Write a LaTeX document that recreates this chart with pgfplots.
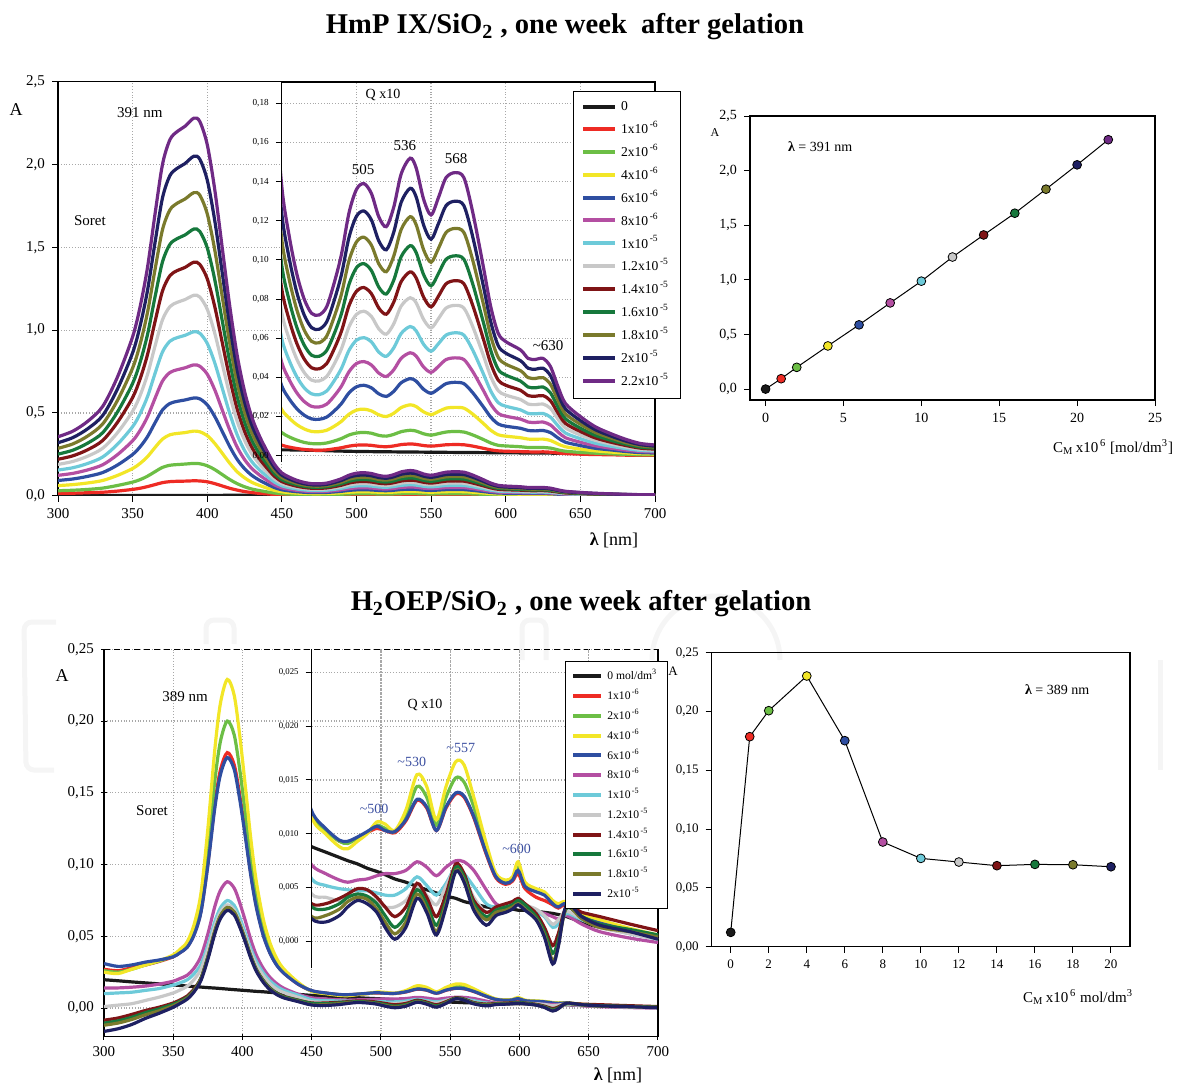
\documentclass[border=0pt]{standalone}
\usepackage{fontspec}
\setmainfont{Liberation Serif}
\usepackage{graphicx}
\usepackage{pgfplots}
\usepackage{pgfplotstable}
\pgfplotsset{compat=1.18}

% series colours (0 ... 2.2x10^-5 mol/dm^3)
\definecolor{c0}{HTML}{1A1A1A}
\definecolor{c1}{HTML}{EE2B24}
\definecolor{c2}{HTML}{6CBE45}
\definecolor{c3}{HTML}{F2E627}
\definecolor{c4}{HTML}{2E4EA1}
\definecolor{c5}{HTML}{B44FA2}
\definecolor{c6}{HTML}{6DCAD9}
\definecolor{c7}{HTML}{C8C8C8}
\definecolor{c8}{HTML}{7F1416}
\definecolor{c9}{HTML}{16783C}
\definecolor{c10}{HTML}{7A7A2C}
\definecolor{c11}{HTML}{1E2062}
\definecolor{c12}{HTML}{6F2A85}
\definecolor{peak}{HTML}{3B4FA0}
\definecolor{gridc}{HTML}{A8A8A8}
\definecolor{wm}{HTML}{F5F5F5}

\newcommand{\fs}[1]{\fontsize{#1}{#1}\selectfont}

\pgfplotsset{
  spec/.style={no markers, smooth, line width=1.6pt},
  panel/.style={scale only axis, anchor=south west, scaled ticks=false,
    tick align=outside, major tick length=3pt,
    tick style={black, line width=0.5pt}, axis line style={line width=0.6pt},
    clip mode=individual, /pgf/number format/assume math mode=true},
  dotgrid/.style={grid=major, major grid style={densely dotted, gridc, line width=0.6pt}},
  ydec/.style={yticklabel style={/pgf/number format/.cd, fixed, fixed zerofill,
    precision=#1, use comma, assume math mode=true, /tikz/.cd}},
  legline/.style={legend image code/.code={\draw[##1, line width=2pt] (0pt,0pt) -- (#1,0pt);}},
}

% HmP IX / SiO2 spectra: wavelength and absorbance of 1x10^-6 ... 2.2x10^-5
\pgfplotstableread{
l a b c d e f g h i j k m
300 0.014 0.030 0.061 0.092 0.123 0.155 0.189 0.220 0.251 0.286 0.320 0.356
310 0.015 0.033 0.067 0.101 0.135 0.169 0.207 0.241 0.275 0.313 0.351 0.390
320 0.018 0.038 0.077 0.117 0.156 0.195 0.239 0.278 0.318 0.361 0.405 0.450
330 0.021 0.046 0.092 0.140 0.187 0.234 0.287 0.334 0.381 0.434 0.485 0.540
340 0.028 0.062 0.123 0.186 0.249 0.312 0.382 0.445 0.508 0.578 0.647 0.720
350 0.038 0.082 0.164 0.249 0.332 0.417 0.510 0.593 0.678 0.771 0.863 0.960
355 0.045 0.097 0.195 0.295 0.394 0.495 0.605 0.705 0.805 0.915 1.025 1.140
360 0.055 0.118 0.236 0.357 0.477 0.599 0.733 0.853 0.974 1.108 1.241 1.380
365 0.067 0.145 0.291 0.440 0.588 0.738 0.903 1.051 1.200 1.365 1.528 1.700
370 0.079 0.171 0.342 0.518 0.692 0.868 1.062 1.236 1.412 1.606 1.798 2.000
375 0.085 0.184 0.368 0.557 0.744 0.933 1.142 1.329 1.518 1.726 1.933 2.150
380 0.087 0.188 0.376 0.570 0.761 0.955 1.168 1.360 1.553 1.767 1.978 2.200
385 0.088 0.191 0.381 0.578 0.772 0.968 1.184 1.378 1.574 1.791 2.005 2.230
391 0.090 0.195 0.390 0.590 0.790 0.990 1.210 1.410 1.610 1.830 2.050 2.280
395 0.089 0.193 0.386 0.585 0.782 0.981 1.200 1.397 1.596 1.815 2.032 2.260
400 0.084 0.181 0.363 0.549 0.734 0.920 1.126 1.310 1.497 1.702 1.906 2.120
405 0.073 0.158 0.316 0.479 0.640 0.803 0.982 1.143 1.306 1.486 1.663 1.850
410 0.059 0.128 0.257 0.389 0.519 0.651 0.797 0.927 1.059 1.205 1.349 1.500
415 0.045 0.098 0.197 0.298 0.398 0.499 0.611 0.711 0.812 0.923 1.034 1.150
420 0.034 0.073 0.145 0.220 0.294 0.369 0.451 0.525 0.600 0.683 0.764 0.850
425 0.025 0.054 0.108 0.163 0.218 0.273 0.335 0.389 0.445 0.506 0.566 0.630
430 0.019 0.040 0.080 0.122 0.163 0.204 0.250 0.290 0.332 0.377 0.423 0.470
435 0.014 0.031 0.062 0.093 0.125 0.156 0.191 0.222 0.254 0.289 0.324 0.360
440 0.011 0.023 0.046 0.070 0.093 0.117 0.143 0.167 0.191 0.217 0.243 0.270
445 0.0075 0.0162 0.0325 0.0492 0.0657 0.0825 0.1009 0.1174 0.1341 0.1526 0.1708 0.190
450 0.0054 0.0118 0.0235 0.0356 0.0476 0.0597 0.0730 0.0850 0.0971 0.1104 0.1236 0.1375
455 0.0044 0.0096 0.0192 0.0290 0.0388 0.0486 0.0595 0.0692 0.0791 0.0899 0.1007 0.1120
460 0.0037 0.0080 0.0159 0.0241 0.0322 0.0404 0.0494 0.0575 0.0657 0.0747 0.0836 0.0930
465 0.0032 0.0068 0.0137 0.0207 0.0277 0.0347 0.0425 0.0494 0.0565 0.0642 0.0719 0.0800
470 0.0029 0.0062 0.0124 0.0188 0.0252 0.0316 0.0386 0.0449 0.0513 0.0584 0.0654 0.0727
475 0.0028 0.0061 0.0123 0.0186 0.0249 0.0312 0.0382 0.0444 0.0508 0.0577 0.0646 0.0719
480 0.0030 0.0065 0.0130 0.0197 0.0263 0.0330 0.0404 0.0470 0.0537 0.0610 0.0683 0.0760
485 0.0035 0.0075 0.0150 0.0228 0.0304 0.0382 0.0467 0.0544 0.0621 0.0707 0.0791 0.0880
490 0.0041 0.0088 0.0176 0.0267 0.0356 0.0447 0.0547 0.0637 0.0727 0.0827 0.0926 0.1030
495 0.0049 0.0106 0.0212 0.0321 0.0429 0.0538 0.0658 0.0766 0.0875 0.0996 0.1115 0.1240
500 0.0054 0.0116 0.0233 0.0352 0.0471 0.0590 0.0722 0.0840 0.0960 0.1092 0.1223 0.1360
505 0.0055 0.0119 0.0238 0.0360 0.0481 0.0603 0.0738 0.0859 0.0981 0.1116 0.1250 0.1390
510 0.0053 0.0115 0.0229 0.0347 0.0464 0.0582 0.0712 0.0828 0.0946 0.1076 0.1205 0.1340
515 0.0048 0.0104 0.0209 0.0316 0.0422 0.0529 0.0648 0.0754 0.0861 0.0980 0.1097 0.1220
520 0.0046 0.0100 0.0200 0.0303 0.0405 0.0508 0.0621 0.0723 0.0826 0.0940 0.1052 0.1170
525 0.0050 0.0109 0.0217 0.0329 0.0439 0.0551 0.0674 0.0785 0.0897 0.1020 0.1142 0.1270
530 0.0057 0.0123 0.0246 0.0373 0.0498 0.0625 0.0765 0.0890 0.1017 0.1156 0.1295 0.1440
536 0.0060 0.0130 0.0260 0.0394 0.0526 0.0660 0.0807 0.0939 0.1073 0.1221 0.1366 0.1520
540 0.0058 0.0126 0.0251 0.0381 0.0509 0.0638 0.0781 0.0908 0.1038 0.1180 0.1322 0.1470
545 0.0052 0.0112 0.0224 0.0339 0.0453 0.0569 0.0696 0.0810 0.0925 0.1052 0.1178 0.1310
550 0.0049 0.0105 0.0210 0.0319 0.0426 0.0534 0.0653 0.0760 0.0868 0.0988 0.1106 0.1230
555 0.0052 0.0113 0.0226 0.0342 0.0457 0.0573 0.0701 0.0816 0.0932 0.1060 0.1187 0.1320
560 0.0056 0.0121 0.0243 0.0368 0.0491 0.0616 0.0754 0.0878 0.1003 0.1140 0.1277 0.1420
566 0.0057 0.0124 0.0247 0.0375 0.0500 0.0628 0.0768 0.0894 0.1021 0.1161 0.1300 0.1446
572 0.0056 0.0121 0.0243 0.0368 0.0491 0.0616 0.0754 0.0878 0.1003 0.1140 0.1277 0.1420
578 0.0049 0.0106 0.0212 0.0321 0.0429 0.0538 0.0658 0.0766 0.0875 0.0996 0.1115 0.1240
585 0.0038 0.0083 0.0165 0.0250 0.0334 0.0419 0.0513 0.0597 0.0682 0.0776 0.0868 0.0966
590 0.0030 0.0065 0.0130 0.0197 0.0263 0.0330 0.0404 0.0470 0.0537 0.0610 0.0683 0.0760
595 0.0025 0.0053 0.0107 0.0162 0.0216 0.0271 0.0332 0.0386 0.0441 0.0502 0.0562 0.0625
600 0.0023 0.0050 0.0100 0.0151 0.0202 0.0253 0.0310 0.0360 0.0412 0.0468 0.0524 0.0583
610 0.0021 0.0046 0.0092 0.0140 0.0187 0.0234 0.0287 0.0334 0.0381 0.0434 0.0485 0.0540
615 0.0020 0.0042 0.0085 0.0129 0.0172 0.0216 0.0264 0.0307 0.0351 0.0399 0.0447 0.0497
620 0.0019 0.0042 0.0084 0.0127 0.0170 0.0214 0.0261 0.0304 0.0347 0.0395 0.0442 0.0492
625 0.0020 0.0042 0.0085 0.0129 0.0172 0.0216 0.0264 0.0307 0.0351 0.0399 0.0447 0.0497
630 0.0018 0.0039 0.0078 0.0118 0.0157 0.0197 0.0242 0.0281 0.0321 0.0365 0.0409 0.0455
635 0.0014 0.0030 0.0060 0.0091 0.0122 0.0153 0.0187 0.0218 0.0249 0.0283 0.0317 0.0353
640 0.0011 0.0023 0.0046 0.0069 0.0092 0.0116 0.0142 0.0165 0.0189 0.0214 0.0240 0.0267
650 0.0008 0.0017 0.0034 0.0052 0.0069 0.0087 0.0106 0.0124 0.0141 0.0161 0.0180 0.0200
660 0.0006 0.0013 0.0025 0.0038 0.0051 0.0064 0.0079 0.0091 0.0104 0.0119 0.0133 0.0148
670 0.0005 0.0010 0.0019 0.0030 0.0039 0.0049 0.0061 0.0070 0.0080 0.0092 0.0102 0.0114
680 0.0003 0.0007 0.0015 0.0022 0.0029 0.0037 0.0045 0.0053 0.0060 0.0068 0.0076 0.0085
690 0.0002 0.0005 0.0011 0.0016 0.0022 0.0027 0.0033 0.0039 0.0044 0.0051 0.0057 0.0063
700 0.0002 0.0005 0.0009 0.0014 0.0019 0.0024 0.0029 0.0034 0.0039 0.0044 0.0049 0.0055
}\toptab

% H2OEP / SiO2 spectra: wavelength, 0 mol/dm3 (k) and 1x10^-6 ... 2x10^-5
\pgfplotstableread{
l k a b c d e f g h i j n
300 0.0197 0.027 0.026 0.025 0.031 0.014 0.010 0.001 -0.0085 -0.0105 -0.012 -0.0163
310 0.0190 0.026 0.025 0.024 0.029 0.014 0.0105 0.002 -0.007 -0.009 -0.0105 -0.0145
320 0.0182 0.028 0.027 0.027 0.030 0.0145 0.011 0.003 -0.0045 -0.0065 -0.008 -0.0115
330 0.0175 0.030 0.030 0.030 0.032 0.0153 0.0123 0.0053 -0.0017 -0.0032 -0.0047 -0.0072
340 0.0168 0.0325 0.0327 0.033 0.0335 0.0167 0.0136 0.0076 0.0006 -0.0006 -0.0019 -0.0036
350 0.0161 0.0357 0.0363 0.037 0.0357 0.0187 0.016 0.0105 0.0035 0.0026 0.0016 0.0005
355 0.0157 0.0387 0.0397 0.041 0.0386 0.0206 0.0176 0.0126 0.0057 0.0048 0.0040 0.0032
360 0.0153 0.0425 0.044 0.046 0.0422 0.0228 0.0196 0.0151 0.0083 0.0074 0.0068 0.0061
365 0.0150 0.0512 0.0541 0.058 0.0508 0.0277 0.0238 0.0198 0.0132 0.0124 0.0120 0.0112
370 0.0146 0.0675 0.0729 0.080 0.0666 0.036 0.0305 0.027 0.0208 0.0206 0.0202 0.0192
375 0.0142 0.1009 0.1113 0.125 0.0993 0.0516 0.0438 0.0408 0.0353 0.0354 0.0352 0.034
380 0.0139 0.1418 0.1583 0.180 0.1393 0.0707 0.0601 0.0571 0.0529 0.0533 0.0534 0.0517
384 0.0136 0.1656 0.1855 0.212 0.1624 0.0819 0.0697 0.0667 0.0634 0.064 0.0641 0.0622
389 0.0132 0.178 0.200 0.229 0.1746 0.088 0.0749 0.0719 0.069 0.070 0.070 0.068
394 0.0128 0.1696 0.1904 0.218 0.1663 0.0836 0.0715 0.0685 0.0659 0.0668 0.0669 0.0649
398 0.0125 0.1483 0.1663 0.190 0.1455 0.0734 0.0631 0.0601 0.0576 0.0582 0.0583 0.0565
402 0.0122 0.1219 0.1361 0.155 0.1196 0.0609 0.0523 0.0498 0.047 0.0475 0.0474 0.046
406 0.0119 0.0939 0.1043 0.118 0.0923 0.0476 0.0413 0.0388 0.0358 0.0361 0.0358 0.0347
410 0.0116 0.0712 0.0784 0.088 0.0700 0.0368 0.0324 0.0299 0.0266 0.0268 0.0265 0.0256
415 0.0113 0.0512 0.0559 0.062 0.0505 0.0276 0.0245 0.0225 0.0191 0.0191 0.0187 0.0179
420 0.0109 0.0382 0.0411 0.045 0.0378 0.0212 0.0188 0.0168 0.0137 0.0137 0.0133 0.0126
425 0.0106 0.0297 0.0316 0.034 0.0294 0.0168 0.0149 0.0129 0.0102 0.0101 0.0096 0.0092
430 0.0102 0.0242 0.0254 0.027 0.0241 0.0137 0.0122 0.0107 0.0081 0.0078 0.0073 0.007
440 0.0095 0.0167 0.0173 0.018 0.0167 0.0097 0.0090 0.0075 0.0055 0.0054 0.0048 0.0045
450 0.0088 0.0119 0.0117 0.0116 0.0121 0.0071 0.0058 0.0044 0.0035 0.0032 0.0023 0.0021
460 0.0083 0.0104 0.0103 0.0100 0.0105 0.0063 0.0052 0.0041 0.0035 0.0030 0.0024 0.0018
470 0.0078 0.0093 0.0093 0.0088 0.0094 0.0057 0.0049 0.0038 0.0040 0.0035 0.0030 0.0024
476 0.0075 0.0092 0.0091 0.0086 0.0093 0.0055 0.0048 0.0041 0.0044 0.0041 0.0037 0.0032
483 0.0072 0.0096 0.0096 0.0093 0.0097 0.0057 0.0047 0.0044 0.0049 0.0044 0.0041 0.0038
490 0.0068 0.0101 0.0101 0.0100 0.0102 0.0058 0.0047 0.0042 0.0048 0.0042 0.0039 0.0035
497 0.0065 0.0105 0.0108 0.0111 0.0107 0.0061 0.0045 0.0037 0.0041 0.0035 0.0030 0.0027
503 0.0062 0.0103 0.0105 0.0109 0.0103 0.0063 0.0043 0.0032 0.0032 0.0024 0.0018 0.0013
510 0.0058 0.0101 0.0102 0.0103 0.0102 0.0063 0.0043 0.0032 0.0023 0.0013 0.0007 0.0002
518 0.0055 0.0112 0.0117 0.0122 0.0113 0.0066 0.0049 0.0038 0.0032 0.0024 0.0018 0.0013
526 0.0051 0.0131 0.0144 0.0155 0.0132 0.0074 0.0060 0.0051 0.0054 0.0048 0.0044 0.0040
533 0.0048 0.0124 0.0134 0.0144 0.0125 0.0069 0.0052 0.0043 0.0041 0.0035 0.0030 0.0027
540 0.0045 0.0103 0.0108 0.0113 0.0103 0.0061 0.0043 0.0034 0.0023 0.0015 0.0009 0.0006
547 0.0042 0.0124 0.0134 0.0144 0.0125 0.0069 0.0054 0.0051 0.0044 0.0038 0.0035 0.0032
554 0.0040 0.0137 0.0152 0.0167 0.0138 0.0075 0.0069 0.0069 0.0072 0.0069 0.0066 0.0065
560 0.0037 0.0134 0.0148 0.0164 0.0135 0.0074 0.0063 0.0060 0.0063 0.0060 0.0057 0.0055
567 0.0035 0.0115 0.0125 0.0134 0.0116 0.0066 0.0051 0.0041 0.0038 0.0035 0.0032 0.0029
576 0.0032 0.0081 0.0085 0.0091 0.0082 0.0048 0.0035 0.0027 0.0027 0.0023 0.0020 0.0015
583 0.0031 0.0059 0.0061 0.0063 0.0060 0.0035 0.0032 0.0032 0.0032 0.0029 0.0027 0.0024
590 0.0030 0.0053 0.0055 0.0057 0.0054 0.0032 0.0033 0.0034 0.0035 0.0032 0.0029 0.0027
595 0.0030 0.0056 0.0058 0.0060 0.0057 0.0034 0.0034 0.0036 0.0037 0.0034 0.0032 0.0030
599 0.0029 0.0063 0.0069 0.0074 0.0066 0.0037 0.0036 0.0038 0.0040 0.0038 0.0035 0.0034
604 0.0029 0.0049 0.0052 0.0055 0.0051 0.0032 0.0032 0.0034 0.0035 0.0034 0.0030 0.0029
612 0.0028 0.0041 0.0048 0.0049 0.0046 0.0028 0.0028 0.0030 0.0026 0.0023 0.0021 0.0020
618 0.0027 0.0038 0.0044 0.0046 0.0043 0.0026 0.0023 0.0024 0.0013 0.0009 0.0006 0.0004
624 0.0026 0.0034 0.0037 0.0038 0.0035 0.0023 0.0013 0.0016 -0.0004 -0.0011 -0.0018 -0.0021
628 0.0025 0.0031 0.0034 0.0035 0.0032 0.0021 0.0016 0.0020 0.0007 0.0001 -0.0004 -0.0005
634 0.0023 0.0034 0.0035 0.0037 0.0035 0.0024 0.0026 0.0028 0.0032 0.0031 0.0032 0.0034
645 0.0018 0.0022 0.0024 0.0026 0.0023 0.0016 0.0020 0.0021 0.0027 0.0023 0.0021 0.0023
658 0.0013 0.0016 0.0018 0.0020 0.0017 0.0009 0.0014 0.0013 0.0023 0.0016 0.0013 0.0015
680 0.0008 0.0010 0.0011 0.0012 0.0010 0.0003 0.0007 0.0007 0.0016 0.0011 0.0009 0.0009
700 0.0004 0.0004 0.0005 0.0006 0.0004 -0.0001 0.0002 0.0002 0.0010 0.0006 0.0004 0.0002
}\bottab

\newcommand{\topcurves}{%
  \addplot[spec,c0] coordinates {(300,0.002) (400,0.002) (450,0.0030) (500,0.0022) (550,0.0018) (600,0.0015) (650,0.0012) (700,0.0008)};
  \addplot[spec,c1]  table[x=l,y=a]{\toptab};
  \addplot[spec,c2]  table[x=l,y=b]{\toptab};
  \addplot[spec,c3]  table[x=l,y=c]{\toptab};
  \addplot[spec,c4]  table[x=l,y=d]{\toptab};
  \addplot[spec,c5]  table[x=l,y=e]{\toptab};
  \addplot[spec,c6]  table[x=l,y=f]{\toptab};
  \addplot[spec,c7]  table[x=l,y=g]{\toptab};
  \addplot[spec,c8]  table[x=l,y=h]{\toptab};
  \addplot[spec,c9]  table[x=l,y=i]{\toptab};
  \addplot[spec,c10] table[x=l,y=j]{\toptab};
  \addplot[spec,c11] table[x=l,y=k]{\toptab};
  \addplot[spec,c12] table[x=l,y=m]{\toptab};
}
\newcommand{\botcurves}{%
  \addplot[spec,c0]  table[x=l,y=k]{\bottab};
  \addplot[spec,c1]  table[x=l,y=a]{\bottab};
  \addplot[spec,c2]  table[x=l,y=b]{\bottab};
  \addplot[spec,c3]  table[x=l,y=c]{\bottab};
  \addplot[spec,c4]  table[x=l,y=d]{\bottab};
  \addplot[spec,c5]  table[x=l,y=e]{\bottab};
  \addplot[spec,c6]  table[x=l,y=f]{\bottab};
  \addplot[spec,c7]  table[x=l,y=g]{\bottab};
  \addplot[spec,c8]  table[x=l,y=h]{\bottab};
  \addplot[spec,c9]  table[x=l,y=i]{\bottab};
  \addplot[spec,c10] table[x=l,y=j]{\bottab};
  \addplot[spec,c11] table[x=l,y=n]{\bottab};
}
\pgfplotsset{
  dotclasses/.style={scatter, only marks, scatter src=explicit symbolic, mark size=2.2pt,
    scatter/classes={
      a={mark=*,draw=black,fill=c0}, b={mark=*,draw=black,fill=c1},
      c={mark=*,draw=black,fill=c2}, d={mark=*,draw=black,fill=c3},
      e={mark=*,draw=black,fill=c4}, f={mark=*,draw=black,fill=c5},
      g={mark=*,draw=black,fill=c6}, h={mark=*,draw=black,fill=c7},
      i={mark=*,draw=black,fill=c8}, j={mark=*,draw=black,fill=c9},
      k={mark=*,draw=black,fill=c10}, l={mark=*,draw=black,fill=c11},
      m={mark=*,draw=black,fill=c12}}},
}

\begin{document}
\begin{tikzpicture}
\useasboundingbox (0,0) rectangle (592.5pt,-543pt);

% faint publisher mark behind the lower row
\begin{scope}[draw=wm, line width=2.5pt, rounded corners=4pt]
  \draw (28pt,-311pt) -- (12pt,-311pt) -- (13pt,-385pt) -- (27pt,-385pt);
  \draw (103pt,-322pt) -- (103pt,-310pt) -- (117pt,-310pt) -- (117pt,-322pt);
  \draw (261pt,-330pt) -- (261pt,-310pt) -- (273pt,-310pt) -- (273pt,-330pt);
  \draw (326pt,-330pt) arc[start angle=180, end angle=0, radius=32pt];
  \draw (580pt,-330pt) -- (580pt,-385pt);
\end{scope}

% ---------------- upper row: HmP IX ----------------
\node[font=\bfseries\fs{14.3}] at (282.5pt,-13.5pt) {HmP IX/SiO\textsubscript{2} , one week \ after gelation};

\begin{axis}[panel, dotgrid,
  at={(29pt,-247.85pt)}, width=298.5pt, height=207pt,
  xmin=300, xmax=700, ymin=0, ymax=2.5,
  xtick={300,350,400,450,500,550,600,650,700},
  ytick={0,0.5,1,1.5,2,2.5}, ydec=1,
  xtick pos=bottom, ytick pos=left,
  ticklabel style={font=\fs{7.5}},
]
  \topcurves
  \node[font=\fs{7.5}] at (axis cs:354.9,2.311) {391 nm};
  \node[font=\fs{7.5}] at (axis cs:321.4,1.664) {Soret};
\end{axis}

\begin{axis}[panel, dotgrid,
  at={(140.9pt,-231pt)}, width=186.6pt, height=190pt,
  xmin=450, xmax=700, ymin=-0.0032, ymax=0.1909,
  axis background/.style={fill=white},
  axis line style={draw=none},
  xtick={500,550,600,650}, xticklabels={}, major x tick style={draw=none},
  ytick={0,0.02,0.04,0.06,0.08,0.1,0.12,0.14,0.16,0.18}, ydec=2,
  ytick pos=left, major tick length=3pt,
  ticklabel style={font=\fs{4.6}},
  legline=16pt,
  legend style={at={(0.779,0.976)}, anchor=north west, draw=black, line width=0.5pt,
    fill=white, font=\fs{6.8}, inner xsep=4pt, inner ysep=3pt, row sep=0pt,
    nodes={inner ysep=1.9pt}, cells={anchor=west}},
  legend entries={0, 1x10\textsuperscript{\,-6}, 2x10\textsuperscript{\,-6}, 4x10\textsuperscript{\,-6},
    6x10\textsuperscript{\,-6}, 8x10\textsuperscript{\,-6}, 1x10\textsuperscript{\,-5},
    1.2x10\textsuperscript{\,-5}, 1.4x10\textsuperscript{\,-5}, 1.6x10\textsuperscript{\,-5},
    1.8x10\textsuperscript{\,-5}, 2x10\textsuperscript{\,-5}, 2.2x10\textsuperscript{\,-5}},
]
  \topcurves
  \draw[line width=0.6pt] (rel axis cs:0,0) -- (rel axis cs:0,1) -- (rel axis cs:1,1) -- (rel axis cs:1,0);
  \node[font=\fs{7}] at (axis cs:517.8,0.1843) {Q x10};
  \node[font=\fs{7.5}] at (axis cs:504.4,0.1463) {505};
  \node[font=\fs{7.5}] at (axis cs:532.5,0.1586) {536};
  \node[font=\fs{7.5}] at (axis cs:566.7,0.152) {568};
  \node[font=\fs{7.5}] at (axis cs:628.4,0.0564) {\textasciitilde 630};
\end{axis}

\begin{axis}[panel,
  at={(375pt,-200pt)}, width=202.5pt, height=142pt,
  xmin=-1, xmax=25, ymin=-0.1, ymax=2.5,
  xtick={0,5,10,15,20,25}, ytick={0,0.5,1,1.5,2,2.5}, ydec=1,
  xtick pos=bottom, ytick pos=left,
  ticklabel style={font=\fs{7}},
]
  \addplot[black, line width=0.5pt, no markers] table[x=x,y=y] {
x y
0 0.000
1 0.095
2 0.199
4 0.395
6 0.588
8 0.789
10 0.988
12 1.209
14 1.411
16 1.610
18 1.830
20 2.053
22 2.283
};
  \addplot[dotclasses] table[x=x,y=y,meta=c] {
x y c
0 0.000 a
1 0.095 b
2 0.199 c
4 0.395 d
6 0.588 e
8 0.789 f
10 0.988 g
12 1.209 h
14 1.411 i
16 1.610 j
18 1.830 k
20 2.053 l
22 2.283 m
};
  \node[font=\fs{7}, anchor=west] at (axis cs:0.99,2.219) {\textbf{λ} = 391 nm};
\end{axis}

\node[font=\fs{9}] at (8pt,-55pt) {A};
\node[font=\fs{9}] at (307pt,-270pt) {\textbf{λ} [nm]};
\node[font=\fs{6}] at (357.5pt,-66.5pt) {A};
\node[font=\fs{7.5}] at (556.5pt,-223.5pt) {C\textsubscript{M}\,x10\textsuperscript{\,6} [mol/dm\textsuperscript{3}]};

% ---------------- lower row: H2OEP ----------------
\node[font=\bfseries\fs{14.3}] at (290.5pt,-302pt) {H\textsubscript{2}OEP/SiO\textsubscript{2} , one week after gelation};

\begin{axis}[panel, dotgrid,
  at={(52pt,-518.35pt)}, width=277pt, height=193.7pt,
  xmin=300, xmax=700, ymin=-0.02, ymax=0.25,
  axis lines=left, axis line style={-, line width=0.6pt},
  xtick={300,350,400,450,500,550,600,650,700},
  ytick={0,0.05,0.1,0.15,0.2,0.25}, ydec=2,
  ticklabel style={font=\fs{7.5}},
]
  \botcurves
  \draw[line width=0.6pt] (rel axis cs:1,0) -- (rel axis cs:1,1);
  \draw[line width=0.6pt, densely dashed] (rel axis cs:0,1) -- (rel axis cs:1,1);
  \node[font=\fs{7.5}] at (axis cs:358.5,0.2168) {389 nm};
  \node[font=\fs{7.5}] at (axis cs:334.7,0.1375) {Soret};
\end{axis}

\begin{axis}[panel, dotgrid,
  at={(155.85pt,-484.15pt)}, width=173.15pt, height=159.65pt,
  xmin=450, xmax=700, ymin=-0.0025, ymax=0.02717,
  axis line style={draw=none},
  xtick={500,550,600,650}, xticklabels={}, major x tick style={draw=none},
  ytick={0,0.005,0.01,0.015,0.02,0.025}, ydec=3,
  ytick pos=left,
  ticklabel style={font=\fs{4.4}},
  legline=14pt,
  legend style={at={(0.731,0.963)}, anchor=north west, draw=black, line width=0.5pt,
    fill=white, font=\fs{5.8}, inner xsep=3pt, inner ysep=2.5pt, row sep=0pt,
    nodes={inner ysep=1.6pt}, cells={anchor=west}},
  legend entries={0 mol/dm\textsuperscript{3}, 1x10\textsuperscript{\,-6}, 2x10\textsuperscript{\,-6},
    4x10\textsuperscript{\,-6}, 6x10\textsuperscript{\,-6}, 8x10\textsuperscript{\,-6},
    1x10\textsuperscript{\,-5}, 1.2x10\textsuperscript{\,-5}, 1.4x10\textsuperscript{\,-5},
    1.6x10\textsuperscript{\,-5}, 1.8x10\textsuperscript{\,-5}, 2x10\textsuperscript{\,-5}},
]
  \botcurves
  \draw[line width=0.6pt] (rel axis cs:0,0) -- (rel axis cs:0,1);
  \node[font=\fs{7}] at (axis cs:531.8,0.02196) {Q x10};
  \node[font=\fs{7}, text=peak] at (axis cs:495,0.01235) {\textasciitilde 500};
  \node[font=\fs{7}, text=peak] at (axis cs:522.2,0.01669) {\textasciitilde 530};
  \node[font=\fs{7}, text=peak] at (axis cs:557.6,0.01794) {\textasciitilde 557};
  \node[font=\fs{7}, text=peak] at (axis cs:598,0.00864) {\textasciitilde 600};
\end{axis}

\begin{axis}[panel,
  at={(355.85pt,-473.35pt)}, width=209.15pt, height=147pt,
  xmin=-1, xmax=21, ymin=0, ymax=0.25,
  xtick={0,2,4,6,8,10,12,14,16,18,20}, ytick={0,0.05,0.1,0.15,0.2,0.25}, ydec=2,
  xtick pos=bottom, ytick pos=left,
  ticklabel style={font=\fs{6.5}},
]
  \addplot[black, line width=0.5pt, no markers] table[x=x,y=y] {
x y
0 0.0122
1 0.1786
2 0.2007
4 0.2302
6 0.1752
8 0.0890
10 0.0751
12 0.0720
14 0.0689
16 0.0700
18 0.0697
20 0.0680
};
  \addplot[dotclasses] table[x=x,y=y,meta=c] {
x y c
0 0.0122 a
1 0.1786 b
2 0.2007 c
4 0.2302 d
6 0.1752 e
8 0.0890 f
10 0.0751 g
12 0.0720 h
14 0.0689 i
16 0.0700 j
18 0.0697 k
20 0.0680 l
};
  \node[font=\fs{7}, anchor=west] at (axis cs:15.11,0.219) {\textbf{λ} = 389 nm};
\end{axis}

\node[font=\fs{9}] at (31pt,-338pt) {A};
\node[font=\fs{9}] at (309pt,-537.5pt) {\textbf{λ} [nm]};
\node[font=\fs{6.5}] at (336.5pt,-335.5pt) {A};
\node[font=\fs{7.5}] at (539pt,-498.5pt) {C\textsubscript{M}\,x10\textsuperscript{\,6} mol/dm\textsuperscript{3}};
\end{tikzpicture}
\end{document}
